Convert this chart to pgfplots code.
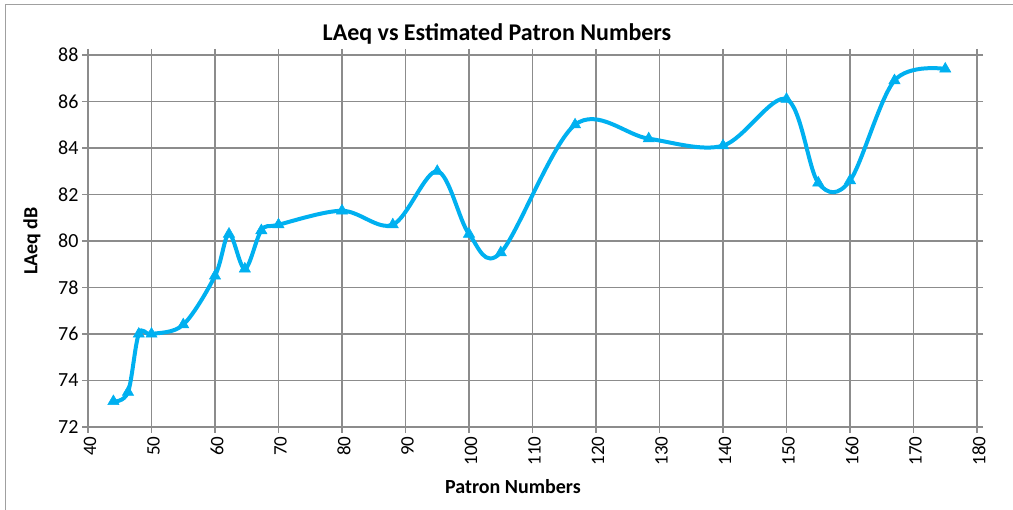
\documentclass[border=0pt]{standalone}
\usepackage{pgfplots}
\pgfplotsset{compat=1.18}
\usepackage{fontspec}
\setmainfont{Carlito}
\definecolor{lineblue}{RGB}{0,176,240}
\definecolor{gridgray}{RGB}{140,140,140}
\definecolor{framegray}{RGB}{160,160,160}
\begin{document}
\begin{tikzpicture}[x=1bp,y=1bp]
\path[use as bounding box] (0,0) rectangle (1013,510);
\draw[framegray, line width=1bp] (5,0) -- (5,505) -- (1013,505);
\begin{axis}[
  at={(88bp,83bp)}, anchor=south west,
  scale only axis, width=889bp, height=372bp,
  xmin=40, xmax=180, ymin=72, ymax=88,
  xtick={40,50,...,180}, ytick={72,74,...,88},
  grid=major,
  grid style={gridgray, line width=1.1bp},
  axis line style={gridgray, line width=1.1bp},
  tick style={gridgray, line width=1.1bp},
  tick align=outside, major tick length=6bp,
  xticklabel style={rotate=90, anchor=east, yshift=-2bp, font=\fontsize{19bp}{22bp}\selectfont},
  yticklabel style={font=\fontsize{20bp}{24bp}\selectfont},
  /pgf/number format/assume math mode=true,
  title={LAeq vs Estimated Patron Numbers},
  title style={font=\bfseries\fontsize{24bp}{28bp}\selectfont, at={(axis description cs:0.46,1.04)}, anchor=center},
  xlabel={Patron Numbers},
  xlabel style={font=\bfseries\fontsize{20bp}{24bp}\selectfont, at={(axis description cs:0.478,-0.161)}, anchor=center},
  ylabel={LAeq dB},
  ylabel style={font=\bfseries\fontsize{20bp}{24bp}\selectfont, at={(axis description cs:-0.063,0.5)}, anchor=center, rotate=0},
]
\addplot[lineblue, line width=4bp, smooth, tension=0.55,
  mark=triangle*, mark size=6.5bp, mark options={solid, fill=lineblue, draw=lineblue, line width=0.5bp}]
coordinates {
(44,73.1) (46.3,73.5) (48,76.0) (50,76.0) (55,76.4) (60,78.5) (62.2,80.3) (64.7,78.8)
(67.3,80.45) (70,80.7) (80,81.3) (88,80.7) (95,83.0) (100,80.3) (105,79.5)
(116.7,85.0) (128.3,84.4) (140,84.1) (150,86.1) (155,82.5) (160,82.6) (167,86.9) (175,87.4)
};
\end{axis}
\end{tikzpicture}
\end{document}
